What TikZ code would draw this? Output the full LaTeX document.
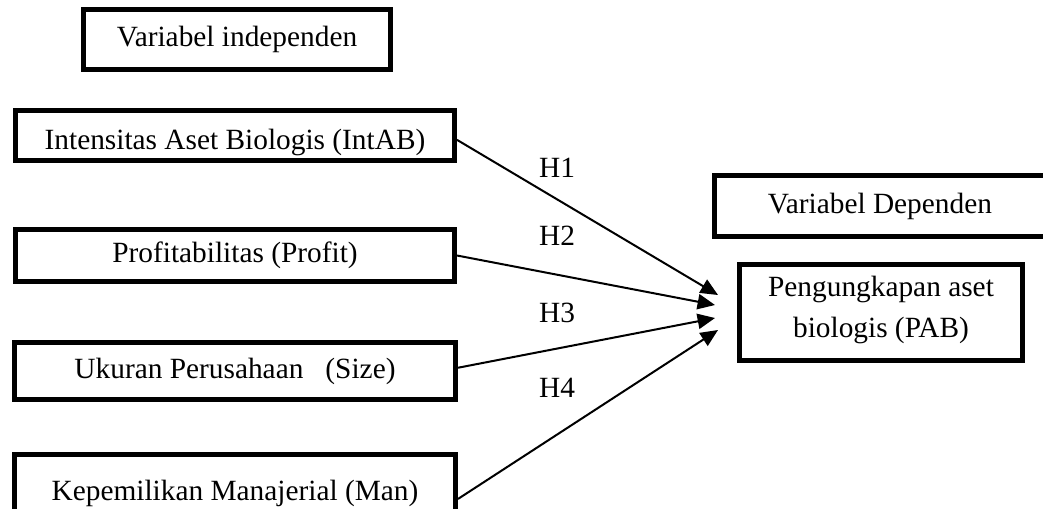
\documentclass[tikz,border=0pt]{standalone}
\usepackage{fontspec}
\setmainfont{Liberation Serif}
\usetikzlibrary{arrows.meta}

\def\pxu{0.46pt}

\begin{document}
\begin{tikzpicture}[x=0.46pt,y=-0.46pt,
  varbox/.style={draw=black,line width=5*\pxu,inner sep=0pt,align=center,font=\fontsize{13.5}{16}\selectfont},
  hyp/.style={black,line width=2*\pxu,-{Triangle[length=8pt,width=7pt]}},
  hlabel/.style={inner sep=0pt,font=\fontsize{13.5}{16}\selectfont}]
\useasboundingbox (0,0) rectangle (1043,508);
% independent side
\node [varbox,minimum width=307*\pxu,minimum height=60*\pxu] (indep) at (237,39.5) {Variabel independen};
\node [varbox,minimum width=439*\pxu,minimum height=50*\pxu] (intab) at (235,135.5) {\raisebox{-3pt}[\height][\depth]{Intensitas Aset Biologis (IntAB)}};
\node [varbox,minimum width=439*\pxu,minimum height=52*\pxu] (profit) at (235,255.5) {Profitabilitas (Profit)};
\node [varbox,minimum width=441*\pxu,minimum height=57*\pxu] (size) at (235,371) {Ukuran Perusahaan\ \ \ (Size)};
\node [varbox,minimum width=441*\pxu,minimum height=78*\pxu] (man) at (235,493.5) {Kepemilikan Manajerial (Man)};
% dependent side
\node [varbox,minimum width=343*\pxu,minimum height=61*\pxu] (depvar) at (886,206) {\hspace*{-5.6pt}Variabel Dependen};
\node [varbox,minimum width=283*\pxu,minimum height=96*\pxu,font=\fontsize{13.5}{19}\selectfont] (pab) at (881,312.5) {\raisebox{1pt}[\height][\depth]{\parbox{120pt}{\centering Pengungkapan aset\\biologis (PAB)}}};
% arrow tips
\coordinate (t1) at (718,295);
\coordinate (t2) at (715,305);
\coordinate (t3) at (715,318);
\coordinate (t4) at (718,330);
\draw [hyp] ([yshift=-2pt]intab.east) -- (t1);
\draw [hyp] (profit.east) -- (t2);
\draw [hyp] ([yshift=1.5pt]size.east) -- (t3);
\draw [hyp] ([yshift=-2.5pt]man.east) -- (t4);
\node [hlabel] (h1) at (557,168) {H1};
\node [hlabel] (h2) at (557,236) {H2};
\node [hlabel] (h3) at (557,313) {H3};
\node [hlabel] (h4) at (557,388) {H4};
\end{tikzpicture}
\end{document}
